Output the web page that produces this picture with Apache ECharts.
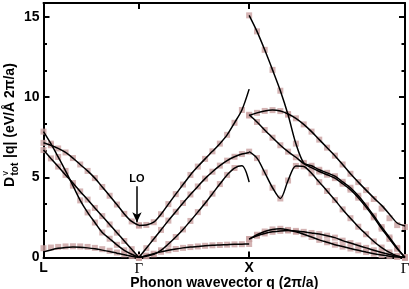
<!DOCTYPE html>
<html><head><meta charset="utf-8">
<script src="https://cdn.jsdelivr.net/npm/echarts@6/dist/echarts.min.js"></script>
<style>html,body{margin:0;padding:0;background:#fff}#c{width:409px;height:289px}</style>
</head><body><div id="c"></div>
<script>
// symmetry points along the path (2π/a units)
const kTicks = [0, 0.866, 1.866, 3.28];
const kLabels = ['L', 'Γ', 'X', 'Γ'];
const yTicks = [0, 5, 10, 15];

// sample positions along each segment
const qLG = [0, 0.067, 0.133, 0.2, 0.267, 0.333, 0.4, 0.466, 0.533, 0.6, 0.666, 0.733, 0.8, 0.866];
const qGX = [0.866, 0.933, 1.0, 1.066, 1.133, 1.2, 1.266, 1.333, 1.4, 1.466, 1.533, 1.6, 1.666, 1.733, 1.8, 1.866];
const qXG = [1.866, 1.937, 2.007, 2.078, 2.149, 2.219, 2.29, 2.361, 2.432, 2.502, 2.573, 2.644, 2.714, 2.785, 2.856, 2.927, 2.997, 3.068, 3.139, 3.209, 3.28];

// L - Γ branches
const lgSteep    = [7.85, 7.1, 6.27, 5.4, 4.48, 3.56, 2.81, 2.18, 1.56, 1.17, 0.79, 0.45, 0.2, 0];
const lgStraight = [6.7, 6.18, 5.67, 5.15, 4.64, 4.12, 3.61, 3.09, 2.58, 2.06, 1.55, 1.03, 0.52, 0];
const lgLO       = [7.15, 7.0, 6.8, 6.55, 6.2, 5.8, 5.4, 4.95, 4.4, 3.85, 3.3, 2.72, 2.25, 2.0];
const lgBotLine  = [0.35, 0.47, 0.57, 0.63, 0.65, 0.64, 0.6, 0.54, 0.46, 0.37, 0.27, 0.17, 0.08, 0];
const lgBotSq    = [0.58, 0.62, 0.66, 0.69, 0.7, 0.69, 0.66, 0.6, 0.52, 0.42, 0.31, 0.2, 0.09, 0];

// Γ - X branches
const gxLO       = [2.0, 2.03, 2.2, 2.7, 3.33, 3.95, 4.55, 5.15, 5.67, 6.15, 6.62, 7.1, 7.65, 8.4, 9.2, 10.5];
const gxStraight = [0, 0.58, 1.15, 1.72, 2.3, 2.85, 3.4, 3.93, 4.43, 4.92, 5.35, 5.73, 6.04, 6.28, 6.45, 6.55];
const gxHook     = [0, 0.08, 0.2, 0.45, 0.84, 1.28, 1.75, 2.28, 2.83, 3.38, 3.98, 4.58, 5.15, 5.58, 5.72, 4.7];
const gxBot      = [0, 0.12, 0.24, 0.35, 0.45, 0.53, 0.6, 0.65, 0.69, 0.73, 0.76, 0.78, 0.8, 0.82, 0.83, 0.84];

// X - Γ branches
const xgT      = [15.1, 14.1, 12.95, 11.7, 10.4, 8.9, 7.1, 5.9, 5.72, 5.47, 5.28, 5.07, 4.72, 4.35, 3.85, 3.25, 2.6, 1.9, 1.25, 0.6, 0];
const xgC      = [8.9, 8.45, 7.95, 7.47, 7.0, 6.6, 6.25, 5.85, 5.6, 5.36, 5.16, 4.95, 4.6, 4.23, 3.73, 3.14, 2.5, 1.8, 1.16, 0.54, 0];
const xgDome   = [8.85, 9.02, 9.14, 9.19, 9.13, 8.95, 8.68, 8.3, 7.85, 7.35, 6.85, 6.35, 5.8, 5.22, 4.7, 4.2, 3.72, 3.25, 2.7, 2.15, 1.97];
const xgDomeSq = [8.85, 9.02, 9.14, 9.19, 9.13, 8.95, 8.68, 8.3, 7.85, 7.35, 6.85, 6.35, 5.8, 5.22, 4.7, 4.2, 3.65, 3.05, 2.45, 2.02, 1.9];
const xgW      = [6.6, 6.2, 5.3, 4.35, 3.68, 4.8, 5.71, 5.68, 5.25, 4.7, 4.15, 3.58, 3.0, 2.45, 1.92, 1.45, 1.0, 0.62, 0.32, 0.1, 0];
const xgBA     = [1.15, 1.42, 1.62, 1.75, 1.79, 1.72, 1.6, 1.45, 1.28, 1.1, 0.95, 0.8, 0.68, 0.56, 0.45, 0.34, 0.24, 0.15, 0.08, 0.03, 0];
const xgBB     = [1.15, 1.35, 1.5, 1.6, 1.66, 1.68, 1.66, 1.6, 1.53, 1.46, 1.36, 1.24, 1.05, 0.9, 0.75, 0.6, 0.45, 0.31, 0.19, 0.08, 0];

function pairs(q, v) { return v.map((y, i) => [q[i], y]); }

const lineSets = [
  pairs(qLG, lgSteep), pairs(qLG, lgStraight), pairs(qLG, lgLO), pairs(qLG, lgBotLine),
  pairs(qGX, gxLO), pairs(qGX, gxStraight), pairs(qGX, gxHook), pairs(qGX, gxBot),
  pairs(qXG, xgT), pairs(qXG, xgC), pairs(qXG, xgDome), pairs(qXG, xgW), pairs(qXG, xgBA), pairs(qXG, xgBB)
];
const squares = [].concat(
  pairs(qLG, lgSteep), pairs(qLG, lgStraight), pairs(qLG, lgLO), pairs(qLG, lgBotSq),
  pairs(qGX, gxLO).slice(0, 15), pairs(qGX, gxStraight).slice(0, 15), pairs(qGX, gxHook).slice(0, 14), pairs(qGX, gxBot),
  pairs(qXG, xgT), pairs(qXG, xgC), pairs(qXG, xgDomeSq), pairs(qXG, xgW), pairs(qXG, xgBA), pairs(qXG, xgBB)
);

const FONT = 'Liberation Sans';
const frame = { color: '#000', width: 2 };
const tickStyle = { color: '#000', width: 2 };

function kLabel(v) {
  let idx = 0, best = 1e9;
  kTicks.forEach((t, i) => { if (Math.abs(t - v) < best) { best = Math.abs(t - v); idx = i; } });
  const s = kLabels[idx];
  return s === 'Γ' ? '{g|Γ}' : s;
}

const series = lineSets.map((d, i) => ({
  type: 'line', data: d, showSymbol: false, smooth: 0.3, silent: true, z: 3,
  lineStyle: { color: '#000', width: 1.5 },
  markLine: i === 0 ? {
    silent: true, symbol: ['none', 'arrow'], symbolSize: [7, 10],
    lineStyle: { color: '#000', width: 1.5, type: 'solid' },
    label: { show: true, position: 'start', formatter: 'LO', color: '#000', fontWeight: 'bold', fontSize: 11, fontFamily: FONT, distance: 2 },
    data: [[{ coord: [0.848, 4.45] }, { coord: [0.848, 2.2] }]]
  } : undefined
}));
series.unshift({
  type: 'scatter', data: squares, symbol: 'rect', symbolSize: 6, silent: true, z: 2,
  itemStyle: { color: '#c9a0a0' }
});

const chart = echarts.init(document.getElementById('c'));
chart.setOption({
  animation: false,
  textStyle: { fontFamily: FONT },
  grid: { left: 43.5, right: 4, top: 3, bottom: 31.5, containLabel: false, outerBoundsMode: 'none' },
  xAxis: [
    {
      type: 'value', min: 0, max: 3.28, position: 'bottom',
      axisLine: { onZero: false, lineStyle: frame },
      axisTick: { inside: true, length: 6, lineStyle: tickStyle, customValues: [kTicks[1], kTicks[2]] },
      axisLabel: {
        customValues: kTicks, formatter: kLabel, margin: 4, color: '#000',
        fontFamily: FONT, fontWeight: 'bold', fontSize: 14,
        rich: { g: { fontFamily: 'Liberation Serif', fontWeight: 'normal', fontSize: 15, color: '#000' } }
      },
      splitLine: { show: false },
      name: 'Phonon wavevector q (2π/a)', nameLocation: 'middle', nameGap: 19, nameMoveOverlap: false,
      nameTextStyle: { color: '#000', fontFamily: FONT, fontWeight: 'bold', fontSize: 14 }
    },
    {
      type: 'value', min: 0, max: 3.28, position: 'top',
      axisLine: { onZero: false, lineStyle: frame },
      axisTick: { inside: true, length: 6, lineStyle: tickStyle, customValues: [kTicks[1], kTicks[2]] },
      axisLabel: { show: false }, splitLine: { show: false }
    }
  ],
  yAxis: [
    {
      type: 'value', min: 0, max: 15.87, interval: 5, position: 'left',
      axisLine: { onZero: false, lineStyle: frame },
      axisTick: { inside: true, length: 6, lineStyle: tickStyle },
      minorTick: { show: true, splitNumber: 3, length: 3.5, lineStyle: tickStyle },
      axisLabel: {
        formatter: v => (yTicks.indexOf(v) >= 0 ? String(v) : ''), margin: 4, color: '#000',
        fontFamily: FONT, fontWeight: 'bold', fontSize: 14
      },
      splitLine: { show: false }, minorSplitLine: { show: false }
    },
    {
      type: 'value', min: 0, max: 15.87, interval: 5, position: 'right',
      axisLine: { onZero: false, lineStyle: frame },
      axisTick: { inside: true, length: 6, lineStyle: tickStyle },
      minorTick: { show: true, splitNumber: 3, length: 3.5, lineStyle: tickStyle },
      axisLabel: { show: false }, splitLine: { show: false }, minorSplitLine: { show: false }
    }
  ],
  graphic: [{
    type: 'group', x: 15, y: 187, rotation: Math.PI / 2, silent: true,
    children: [
      { type: 'text', x: 0, y: -5, style: { text: 'D', font: 'bold 14px "Liberation Sans"', fill: '#000', align: 'left', verticalAlign: 'middle' } },
      { type: 'text', x: 11.5, y: -9, style: { text: 'v', font: '9px "Liberation Sans"', fill: '#000', align: 'left', verticalAlign: 'middle' } },
      { type: 'text', x: 11.5, y: 0, style: { text: 'tot', font: 'bold 10px "Liberation Sans"', fill: '#000', align: 'left', verticalAlign: 'middle' } },
      { type: 'text', x: 29, y: -5, style: { text: '|q| (eV/Å 2π/a)', font: 'bold 14px "Liberation Sans"', fill: '#000', align: 'left', verticalAlign: 'middle' } }
    ]
  }],
  series: series
});
</script></body></html>
